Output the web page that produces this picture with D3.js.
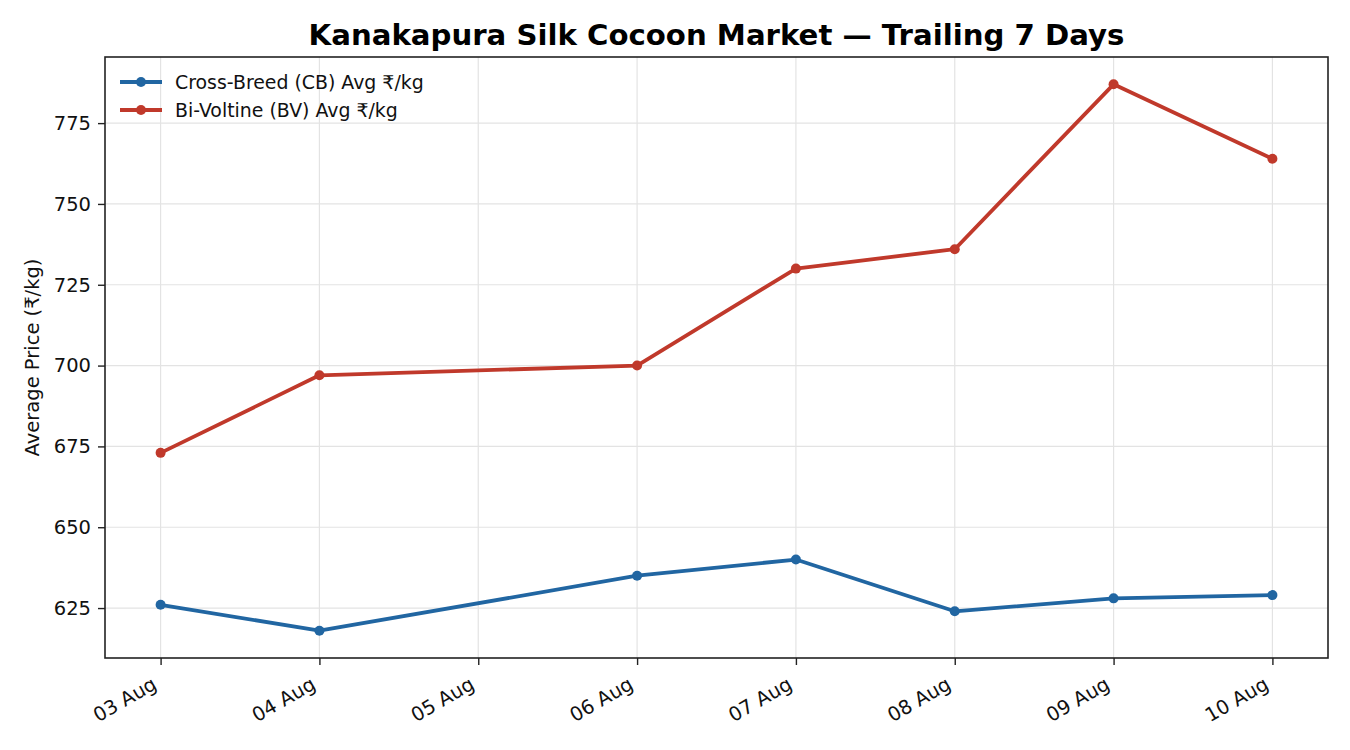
<!DOCTYPE html>
<html>
<head>
<meta charset="utf-8">
<script src="https://cdn.jsdelivr.net/npm/d3@7"></script>
<style>
  html, body { margin: 0; padding: 0; background: #fff; }
  svg { display: block; font-family: "DejaVu Sans", sans-serif; }
</style>
</head>
<body>
<svg id="chart" width="1350" height="750"></svg>
<script>
const dates = ["2024-08-03","2024-08-04","2024-08-06","2024-08-07","2024-08-08","2024-08-09","2024-08-10"];
const cbValues = [626, 618, 635, 640, 624, 628, 629];
const bvValues = [673, 697, 700, 730, 736, 787, 764];
const seriesNames = ["Cross-Breed (CB) Avg ₹/kg", "Bi-Voltine (BV) Avg ₹/kg"];
const yTicks = [625, 650, 675, 700, 725, 750, 775];
const xTickDates = ["2024-08-03","2024-08-04","2024-08-05","2024-08-06","2024-08-07","2024-08-08","2024-08-09","2024-08-10"];
const colors = ["#2166a2", "#c0392b"];

const W = 1350, H = 750;
const m = {left: 105, right: 1328, top: 57, bottom: 658};
const svg = d3.select("#chart");
const parse = d3.utcParse("%Y-%m-%d");
const fmt = d3.utcFormat("%d %b");
const FONT = "'DejaVu Sans', sans-serif";

const xd = dates.map(parse);
const xmin = parse(xTickDates[0]), xmax = parse(xTickDates[xTickDates.length-1]);
const span = xmax - xmin;
const x = d3.scaleUtc()
  .domain([new Date(+xmin - span*0.05), new Date(+xmax + span*0.05)])
  .range([m.left, m.right]);
const allV = cbValues.concat(bvValues);
const vmin = d3.min(allV), vmax = d3.max(allV), vr = vmax - vmin;
const y = d3.scaleLinear()
  .domain([vmin - vr*0.05, vmax + vr*0.05])
  .range([m.bottom, m.top]);

const FS = 19.5;

// grid
const g = svg.append("g");
g.selectAll("line.vg").data(xTickDates.map(parse)).join("line")
  .attr("x1", d => x(d)).attr("x2", d => x(d))
  .attr("y1", m.top).attr("y2", m.bottom)
  .attr("stroke", "#e3e3e3").attr("stroke-width", 1.2);
g.selectAll("line.hg").data(yTicks).join("line")
  .attr("x1", m.left).attr("x2", m.right)
  .attr("y1", d => y(d)).attr("y2", d => y(d))
  .attr("stroke", "#e3e3e3").attr("stroke-width", 1.2);

// axes
const xAxis = d3.axisBottom(x).tickValues(xTickDates.map(parse)).tickFormat(fmt).tickSize(7).tickPadding(4);
const xg = svg.append("g").attr("transform", `translate(0,${m.bottom})`).call(xAxis)
  .attr("font-family", FONT);
xg.select(".domain").remove();
xg.selectAll(".tick line").attr("stroke", "#222").attr("stroke-width", 1.4);
xg.selectAll(".tick text")
  .attr("font-size", FS).attr("fill", "#111")
  .attr("text-anchor", "end")
  .attr("dy", 0)
  .attr("y", 0).attr("x", 0)
  .attr("transform", "translate(-3,30) rotate(-30)");

const yAxis = d3.axisLeft(y).tickValues(yTicks).tickSize(7).tickPadding(7);
const yg = svg.append("g").attr("transform", `translate(${m.left},0)`).call(yAxis)
  .attr("font-family", FONT);
yg.select(".domain").remove();
yg.selectAll(".tick line").attr("stroke", "#222").attr("stroke-width", 1.4);
yg.selectAll(".tick text").attr("font-size", FS).attr("fill", "#111");

// frame
svg.append("rect").attr("x", m.left).attr("y", m.top)
  .attr("width", m.right - m.left).attr("height", m.bottom - m.top)
  .attr("fill", "none").attr("stroke", "#222").attr("stroke-width", 1.6);

// lines
const series = [cbValues, bvValues];
const line = d3.line().x((d,i) => x(xd[i])).y(d => y(d));
series.forEach((vals, si) => {
  svg.append("path").datum(vals).attr("d", line)
    .attr("fill", "none").attr("stroke", colors[si]).attr("stroke-width", 3.8)
    .attr("stroke-linejoin", "round");
  svg.selectAll(null).data(vals).join("circle")
    .attr("cx", (d,i) => x(xd[i])).attr("cy", d => y(d)).attr("r", 5)
    .attr("fill", colors[si]);
});

// title
svg.append("text").attr("x", (m.left + m.right)/2).attr("y", 45)
  .attr("text-anchor", "middle").attr("font-size", 29.2).attr("font-weight", "bold")
  .attr("fill", "#000").text("Kanakapura Silk Cocoon Market — Trailing 7 Days");

// y label
svg.append("text").attr("transform", `translate(39,${(m.top+m.bottom)/2}) rotate(-90)`)
  .attr("text-anchor", "middle").attr("font-size", FS).attr("fill", "#111")
  .text("Average Price (₹/kg)");

// legend
const lg = svg.append("g");
seriesNames.forEach((name, i) => {
  const ly = 82 + i*28;
  lg.append("line").attr("x1", 120).attr("x2", 162).attr("y1", ly).attr("y2", ly)
    .attr("stroke", colors[i]).attr("stroke-width", 3.8);
  lg.append("circle").attr("cx", 141).attr("cy", ly).attr("r", 5).attr("fill", colors[i]);
  lg.append("text").attr("x", 175).attr("y", ly).attr("dy", "0.35em")
    .attr("font-size", FS - 0.6).attr("fill", "#111").text(name);
});
</script>
</body>
</html>
